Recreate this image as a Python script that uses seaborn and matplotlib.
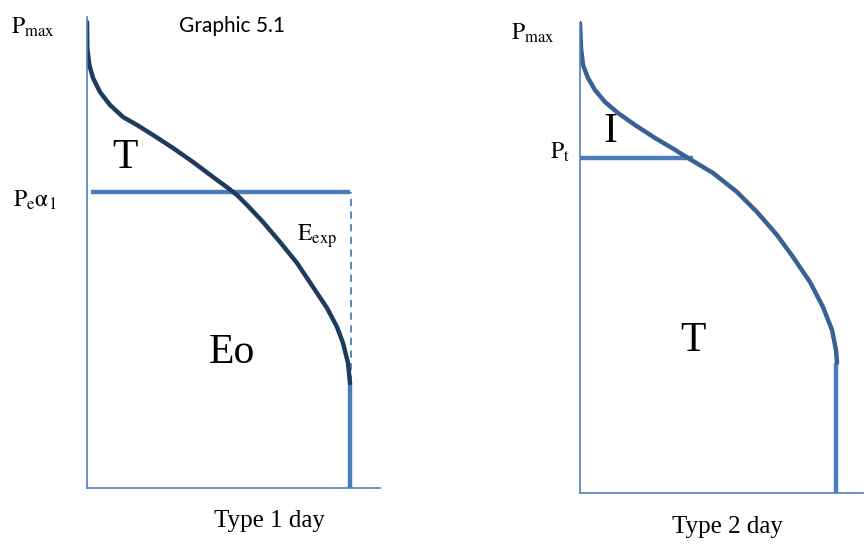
import matplotlib
matplotlib.use("Agg")
import matplotlib.pyplot as plt
import numpy as np
import pandas as pd
import seaborn as sns

sns.set_style("white")
plt.rcParams["font.family"] = ["Liberation Serif", "DejaVu Serif"]
plt.rcParams["mathtext.fontset"] = "stix"
plt.rcParams["text.color"] = "black"

# load curve of a type 1 day (duration, power)
day1_x = [0, 0.3, 2.3, 6, 13, 23, 36, 50, 66, 86, 106, 126, 141, 150, 160, 176,
          193, 210, 226, 240, 250, 256, 261, 263]
day1_y = [466, 440, 423, 410, 396, 383, 371, 363, 353, 340, 326, 311, 300, 293, 283, 266,
          246, 225, 201, 180, 161, 145, 125, 105]
day1_level = 296      # P_e alpha_1
day1_end = 263        # end of the day on the duration axis

# load curve of a type 2 day
day2_x = [0, 1, 3, 8, 15, 25, 38, 55, 75, 92, 108, 133, 157, 177, 197, 213, 230,
          243, 252, 256, 257]
day2_y = [470, 445, 428, 415, 403, 391, 380, 368, 355, 345, 335, 320, 301, 281, 258, 236, 211,
          186, 163, 143, 130]
day2_level = 335      # P_t
day2_level_end = 113
day2_end = 256

axis_col = "#4f81bd"
thick_col = "#4a7ebb"

fig = plt.figure(figsize=(8.64, 5.45), dpi=100)
ax1 = fig.add_axes([87 / 864, 57 / 545, 293 / 864, 488 / 545])
ax2 = fig.add_axes([580 / 864, 52 / 545, 284 / 864, 493 / 545])

for ax, xmax, ymax, ytop in [(ax1, 293, 488, 471), (ax2, 284, 493, 470)]:
    ax.set_xlim(0, xmax)
    ax.set_ylim(0, ymax)
    ax.set_xticks([])
    ax.set_yticks([])
    ax.patch.set_alpha(0)
    for s in ["top", "right"]:
        ax.spines[s].set_visible(False)
    for s in ["left", "bottom"]:
        ax.spines[s].set_color(axis_col)
        ax.spines[s].set_linewidth(1.2)
    ax.spines["left"].set_bounds(0, ytop)
    ax.spines["bottom"].set_bounds(0, xmax)

# ---- type 1 day
d1 = pd.DataFrame({"t": day1_x, "p": day1_y})
ax1.plot([4, day1_end], [day1_level, day1_level], color=thick_col, lw=3.2, solid_capstyle="butt")
ax1.plot([day1_end + 1, day1_end + 1], [day1_y[-1], day1_level], color=thick_col, lw=1.3,
         linestyle=(0, (4, 3)))
ax1.plot([day1_end, day1_end], [0, day1_y[-1]], color=thick_col, lw=3.2, solid_capstyle="butt")
sns.lineplot(data=d1, x="t", y="p", ax=ax1, sort=False, estimator=None,
             color="#1f3a5f", lw=3.2)
ax1.set_xlabel("")
ax1.set_ylabel("")

ax1.text(-54, 461, r"$\mathrm{P}_{\mathrm{max}}$", fontsize=17, ha="center", va="center", clip_on=False)
ax1.text(145, 462, "Graphic 5.1", fontsize=15, family=["Lato", "DejaVu Sans"],
         ha="center", va="center")
ax1.text(38, 330, "T", fontsize=30, ha="center", va="center")
ax1.text(-52, 288, r"$\mathrm{P}_{\mathrm{e}}\mathrm{\alpha}_{1}$", fontsize=17,
         ha="center", va="center", clip_on=False)
ax1.text(210, 252, r"$\mathrm{E}_{\mathrm{exp}}$", fontsize=17, ha="left", va="center")
ax1.text(145, 135, "Eo", fontsize=30, ha="center", va="center")
ax1.text(182, -33, "Type 1 day", fontsize=18, ha="center", va="center", clip_on=False)

# ---- type 2 day
d2 = pd.DataFrame({"t": day2_x, "p": day2_y})
ax2.plot([0, day2_level_end], [day2_level, day2_level], color=thick_col, lw=3.2, solid_capstyle="butt")
ax2.plot([day2_end, day2_end], [0, day2_y[-1]], color=thick_col, lw=3.2, solid_capstyle="butt")
sns.lineplot(data=d2, x="t", y="p", ax=ax2, sort=False, estimator=None,
             color="#3a6193", lw=3.2)
ax2.set_xlabel("")
ax2.set_ylabel("")

ax2.text(-47, 460, r"$\mathrm{P}_{\mathrm{max}}$", fontsize=17, ha="center", va="center", clip_on=False)
ax2.text(30, 361, "I", fontsize=30, ha="center", va="center")
ax2.text(-20, 341, r"$\mathrm{P}_{\mathrm{t}}$", fontsize=17, ha="center", va="center", clip_on=False)
ax2.text(113, 152, "T", fontsize=30, ha="center", va="center")
ax2.text(147, -34, "Type 2 day", fontsize=18, ha="center", va="center", clip_on=False)

fig.savefig("out.png", dpi=100)
